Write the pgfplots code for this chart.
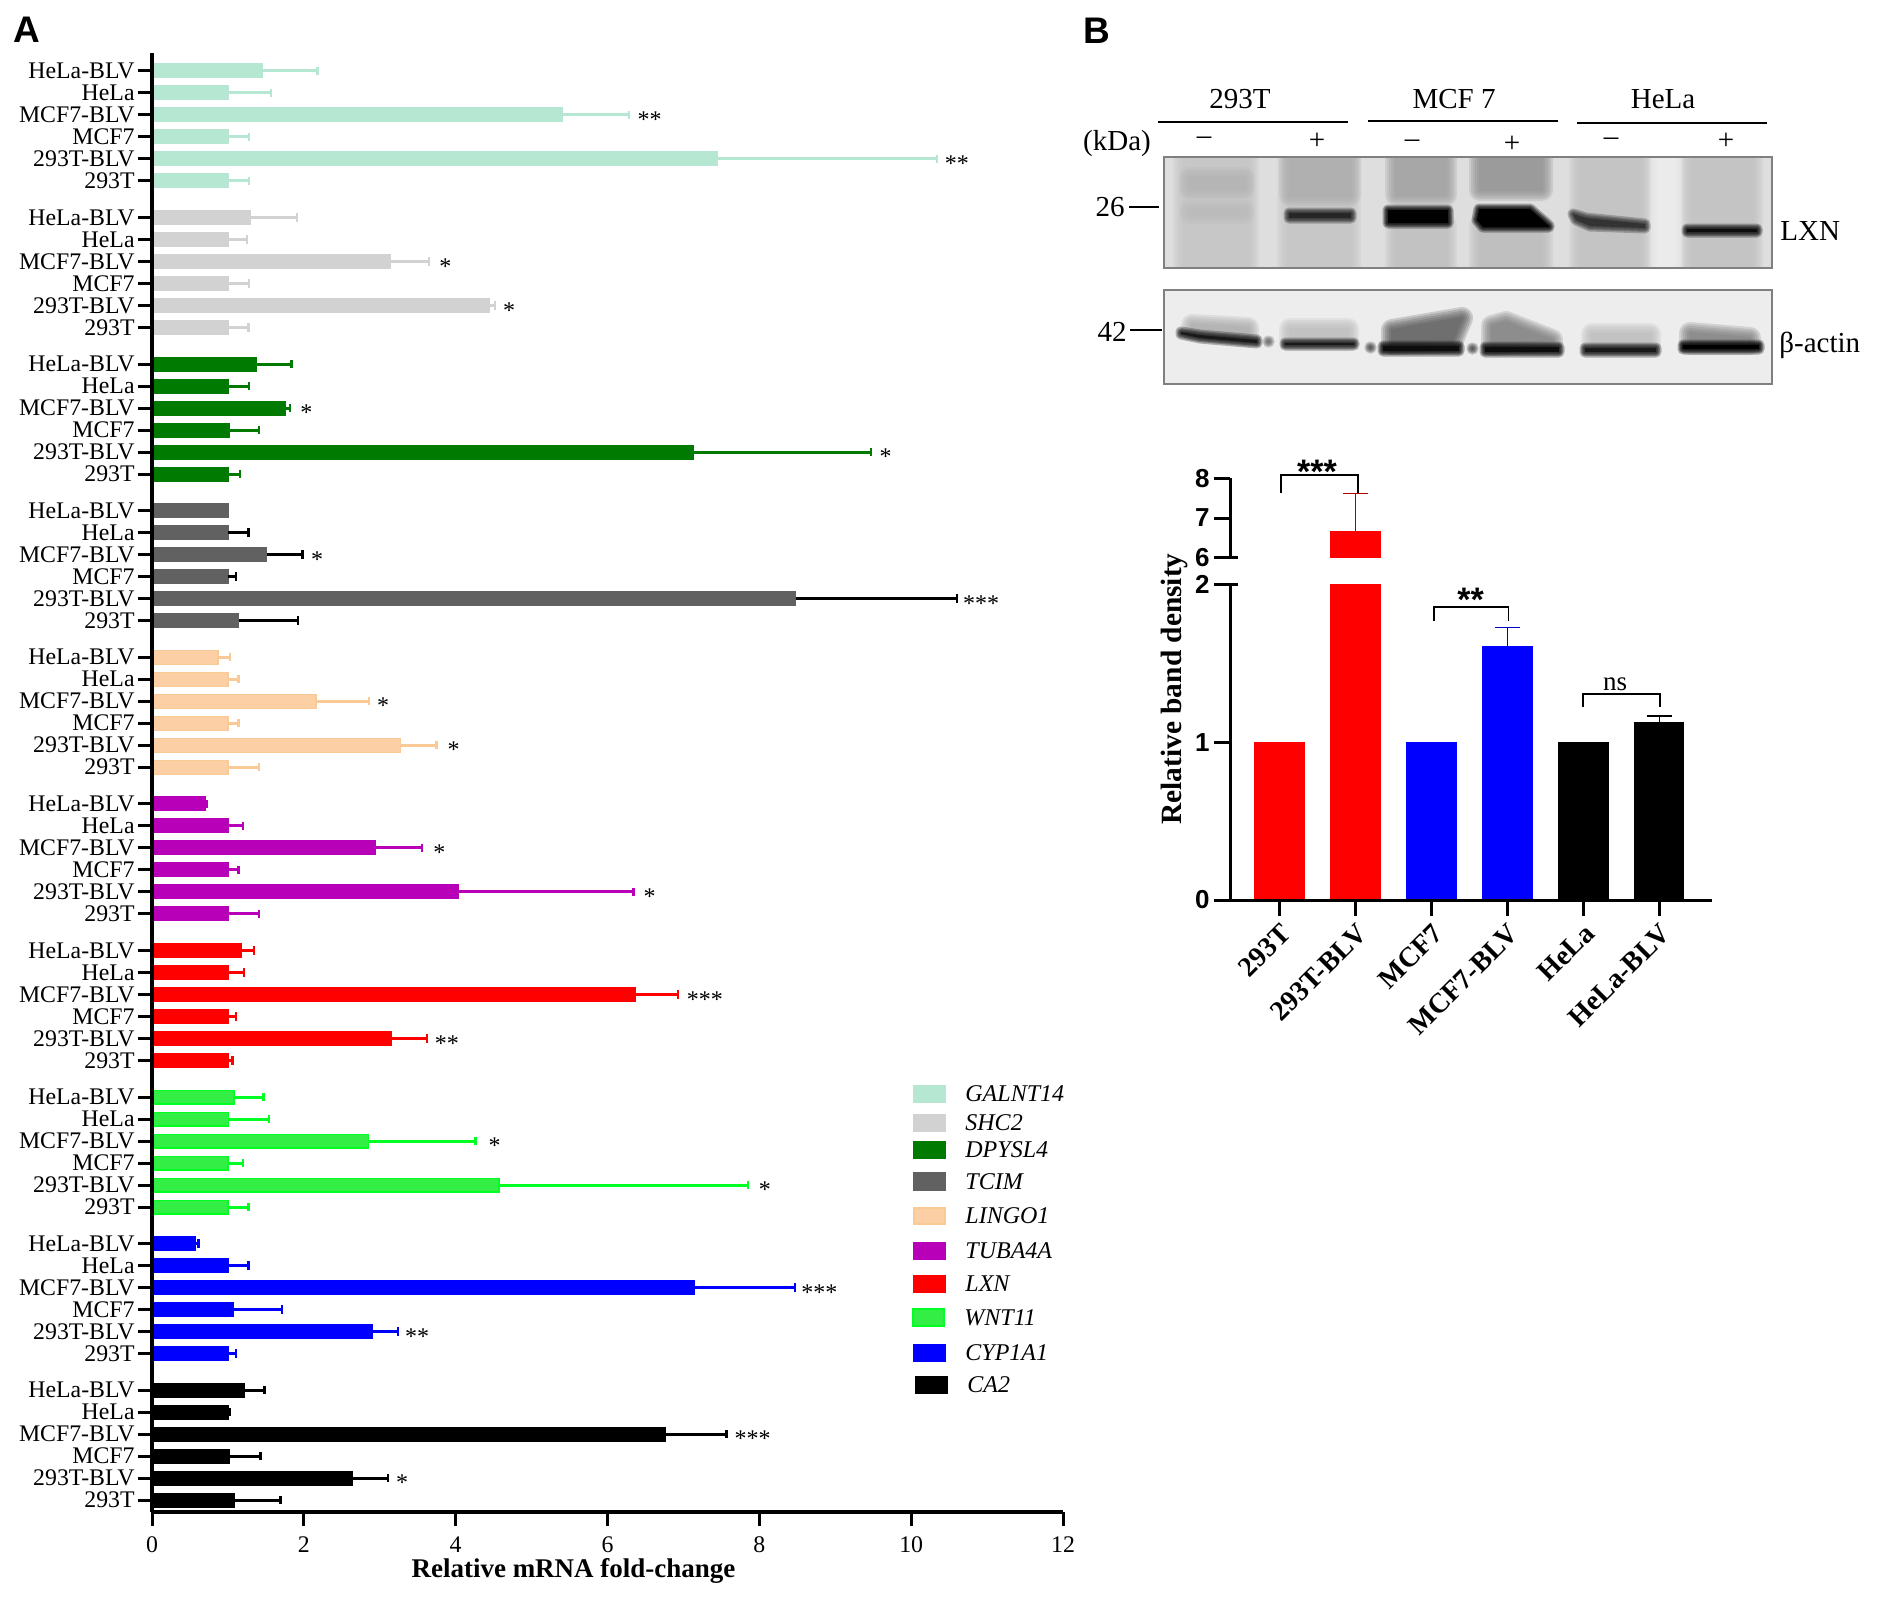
\documentclass[border=0pt]{standalone}
\usepackage{fontspec}
\usepackage{pgfplots}
\usepackage{pgfplotstable}
\pgfplotsset{compat=1.18}
\setmainfont{Liberation Serif}
\newfontfamily\lsans{Liberation Sans}
\newcommand\fs[1]{\fontsize{#1}{#1}\selectfont}

% row positions are pixels above the x axis of panel A
\pgfplotstableread{
y v e
1332.4 1.00 0.28
1354.4 7.45 2.89
1376.4 1.00 0.28
1398.4 5.41 0.87
1420.4 1.00 0.57
1442.4 1.46 0.72
}\tGalnt
\pgfplotstableread{
y v e
1185.8 1.00 0.27
1207.8 4.44 0.08
1229.8 1.00 0.28
1251.8 3.14 0.51
1273.8 1.00 0.25
1295.8 1.30 0.61
}\tShc
\pgfplotstableread{
y v e
1039.2 1.00 0.16
1061.2 7.13 2.34
1083.2 1.02 0.39
1105.2 1.76 0.06
1127.2 1.00 0.28
1149.2 1.37 0.47
}\tDpysl
\pgfplotstableread{
y v e
892.6 1.14 0.78
914.6 8.48 2.12
936.6 1.00 0.11
958.6 1.51 0.47
980.6 1.00 0.27
}\tTcim
\pgfplotstableread{
y v e
746 1.00 0.41
768 3.27 0.48
790 1.00 0.14
812 2.16 0.70
834 1.00 0.14
856 0.87 0.16
}\tLingo
\pgfplotstableread{
y v e
599.4 1.00 0.41
621.4 4.04 2.30
643.4 1.00 0.14
665.4 2.94 0.62
687.4 1.00 0.20
709.4 0.70 0.02
}\tTuba
\pgfplotstableread{
y v e
452.8 1.00 0.06
474.8 3.15 0.47
496.8 1.00 0.11
518.8 6.37 0.56
540.8 1.00 0.21
562.8 1.18 0.16
}\tLxn
\pgfplotstableread{
y v e
306.2 1.00 0.27
328.2 4.57 3.28
350.2 1.00 0.20
372.2 2.85 1.41
394.2 1.01 0.53
416.2 1.08 0.39
}\tWnt
\pgfplotstableread{
y v e
159.6 1.00 0.11
181.6 2.90 0.34
203.6 1.07 0.64
225.6 7.15 1.32
247.6 1.00 0.27
269.6 0.57 0.04
}\tCyp
\pgfplotstableread{
y v e
13 1.08 0.61
35 2.64 0.47
57 1.02 0.41
79 6.76 0.81
101 1.00 0.02
123 1.22 0.26
}\tCa
% panel B
\pgfplotstableread{
x v e
1 6.67 0.95
}\tBandR
\pgfplotstableread{
x v e
3 1.61 0.12
}\tBandB
\pgfplotstableread{
x v e
5 1.13 0.036
}\tBandK

\definecolor{cGalnt}{HTML}{B5E7D3}
\definecolor{cShc}{HTML}{D2D2D2}
\definecolor{cDpysl}{HTML}{007A00}
\definecolor{cTcim}{HTML}{616161}
\definecolor{cLingo}{HTML}{FCD0A4}
\definecolor{dLingo}{HTML}{FBC995}
\definecolor{cTuba}{HTML}{B800B8}
\definecolor{cLxn}{HTML}{FF0000}
\definecolor{cWnt}{HTML}{33EE44}
\definecolor{dWnt}{HTML}{00FF22}
\definecolor{cCyp}{HTML}{0000FF}
\colorlet{eRed}{red!70!black}
\colorlet{eBlue}{blue!80!black}

% one gene: bar colour, edge colour, error bar colour, table
\newcommand\gene[4]{%
  \addplot[xbar, bar shift=0pt, bar width=6.9pt, fill=#1, draw=#2, line width=0.6pt,
    error bars/.cd, x dir=plus, x explicit,
    error bar style={color=#3, line width=1.5pt},
    error mark options={rotate=90, color=#3, mark size=2.1pt, line width=1.2pt}]
    table[x=v, y=y, x error plus=e] {#4};}
\newcommand\sig[3]{\node[anchor=west, inner sep=0pt, yshift=-1.2pt, font=\fs{12}] at (axis cs:#1,#2) {#3};}
% panel B bars: fill, error colour, table
\newcommand\band[3]{%
  \addplot[ybar, bar shift=0pt, bar width=25.3pt, fill=#1, draw=none,
    error bars/.cd, y dir=plus, y explicit,
    error bar style={color=#2, line width=0.6pt},
    error mark options={rotate=90, color=#2, mark size=6.25pt, line width=0.6pt}]
    table[x=x, y=v, y error plus=e] {#3};}

% soft edged shapes for the blots: grey level, path
\newcommand\soft[2]{%
  \foreach \w in {22,18,14,10,6,2}{%
    \begin{scope}[transparency group, opacity=0.22]
    \draw[#1, fill=#1, line width=\w*0.5pt, line join=round] #2;
    \end{scope}}}
\newcommand\softthin[2]{%
  \foreach \w in {11,8,6,4,2}{%
    \begin{scope}[transparency group, opacity=0.3]
    \draw[#1, fill=#1, line width=\w*0.5pt, line join=round] #2;
    \end{scope}}
  \fill[#1] #2;}

\begin{document}
\begin{tikzpicture}[x=0.5pt,y=-0.5pt]
\path[use as bounding box] (0,0) rectangle (1878,1597);

\begin{axis}[
  at={(76pt,-756pt)}, anchor=south west,
  scale only axis, width=455.5pt, height=729.5pt,
  xmin=0, xmax=12, ymin=1.2, ymax=1460.2,
  axis x line=bottom, axis y line=left,
  axis line style={-, line width=1.8pt},
  axis on top,
  tick style={black, line width=1.5pt},
  tick align=outside, major tick length=7pt,
  xtick={0,2,4,6,8,10,12},
  /pgf/number format/assume math mode=true,
  tick label style={font=\fs{11.9}},
  xticklabel style={inner sep=2pt, yshift=-3pt},
  yticklabel style={inner sep=1.5pt},
  ytick={13,35,57,79,101,123,159.6,181.6,203.6,225.6,247.6,269.6,
    306.2,328.2,350.2,372.2,394.2,416.2,452.8,474.8,496.8,518.8,540.8,562.8,
    599.4,621.4,643.4,665.4,687.4,709.4,746,768,790,812,834,856,
    892.6,914.6,936.6,958.6,980.6,1002.6,1039.2,1061.2,1083.2,1105.2,1127.2,1149.2,
    1185.8,1207.8,1229.8,1251.8,1273.8,1295.8,1332.4,1354.4,1376.4,1398.4,1420.4,1442.4},
  yticklabels={293T,293T-BLV,MCF7,MCF7-BLV,HeLa,HeLa-BLV,
    293T,293T-BLV,MCF7,MCF7-BLV,HeLa,HeLa-BLV,
    293T,293T-BLV,MCF7,MCF7-BLV,HeLa,HeLa-BLV,
    293T,293T-BLV,MCF7,MCF7-BLV,HeLa,HeLa-BLV,
    293T,293T-BLV,MCF7,MCF7-BLV,HeLa,HeLa-BLV,
    293T,293T-BLV,MCF7,MCF7-BLV,HeLa,HeLa-BLV,
    293T,293T-BLV,MCF7,MCF7-BLV,HeLa,HeLa-BLV,
    293T,293T-BLV,MCF7,MCF7-BLV,HeLa,HeLa-BLV,
    293T,293T-BLV,MCF7,MCF7-BLV,HeLa,HeLa-BLV,
    293T,293T-BLV,MCF7,MCF7-BLV,HeLa,HeLa-BLV},
  xlabel={Relative mRNA fold-change},
  xlabel style={font=\fs{13.5}\bfseries, inner sep=1pt, xshift=-17pt, yshift=0pt},
]
\gene{cGalnt}{cGalnt}{cGalnt}{\tGalnt}
\gene{cShc}{cShc}{cShc}{\tShc}
\gene{cDpysl}{cDpysl}{cDpysl}{\tDpysl}
\gene{cTcim}{cTcim}{black}{\tTcim}
\addplot[xbar, bar shift=0pt, bar width=6.9pt, fill=cTcim, draw=cTcim, line width=0.6pt] coordinates {(1.00,1002.6)};
\gene{cLingo}{dLingo}{dLingo}{\tLingo}
\gene{cTuba}{cTuba}{cTuba}{\tTuba}
\gene{cLxn}{cLxn}{cLxn}{\tLxn}
\gene{cWnt}{dWnt}{dWnt}{\tWnt}
\gene{cCyp}{cCyp}{cCyp}{\tCyp}
\gene{black}{black}{black}{\tCa}
\sig{6.39}{1396}{**}\sig{10.44}{1352}{**}
\sig{3.78}{1249}{*}\sig{4.62}{1205}{*}
\sig{1.95}{1103}{*}\sig{9.58}{1059}{*}
\sig{2.09}{956}{*}\sig{10.68}{912}{***}
\sig{2.96}{810}{*}\sig{3.89}{766}{*}
\sig{3.70}{663}{*}\sig{6.47}{619}{*}
\sig{7.04}{516}{***}\sig{3.72}{472}{**}
\sig{4.43}{370}{*}\sig{7.99}{326}{*}
\sig{8.55}{223}{***}\sig{3.33}{179}{**}
\sig{7.67}{77}{***}\sig{3.21}{33}{*}
\end{axis}

% panel letters
\node[font=\lsans\bfseries\fs{18.5}, inner sep=0pt] at (27,30) {A};
\node[font=\lsans\bfseries\fs{18.5}, inner sep=0pt] at (1097,31) {B};

% legend of panel A
\foreach \yt/\yb/\xl/\c/\d/\n in {1085/1103/913/cGalnt/cGalnt/GALNT14, 1114/1132/913/cShc/cShc/SHC2,
    1141/1159/913/cDpysl/cDpysl/DPYSL4, 1172/1191/913/cTcim/cTcim/TCIM, 1207/1225/913/cLingo/dLingo/LINGO1,
    1242/1260/913/cTuba/cTuba/TUBA4A, 1275/1293/913/cLxn/cLxn/LXN, 1308/1327/912/cWnt/dWnt/WNT11,
    1344/1362/913/cCyp/cCyp/CYP1A1, 1376/1394/915/black/black/CA2}{
  \filldraw[fill=\c, draw=\d, line width=0.8pt] (\xl+1,\yt+1) rectangle (\xl+32,\yb-1);
  \node[anchor=west, inner sep=0pt, font=\fs{12}\itshape] at (\xl+52,{(\yt+\yb)/2}) {\n};
}

% blot headers
\foreach \x/\y/\t in {1240/99/293T, 1454/99/MCF 7, 1663/99/HeLa, 1117/144/(kDa),
    1204/141/--, 1317/141/+, 1412/144/--, 1512/144/+, 1611/142/--, 1726/141/+,
    1110/207/26, 1112/332/42}{
  \node[inner sep=0pt, font=\fs{14.5}] at (\x,\y) {\t};
}
\draw[line width=0.8pt] (1158,122) -- (1348,122);
\draw[line width=0.8pt] (1368,121) -- (1558,121);
\draw[line width=0.8pt] (1577,123) -- (1767,123);
\draw[line width=0.8pt] (1129,207) -- (1159,207);
\draw[line width=0.8pt] (1130,330) -- (1162,330);
\node[anchor=west, inner sep=0pt, font=\fs{14.5}] at (1780,231) {LXN};
\node[anchor=west, inner sep=0pt, font=\fs{14.5}] at (1779,345) {β-actin};

% blot LXN
\begin{scope}
\clip (1164,157) rectangle (1772,268);
\fill[black!13] (1164,157) rectangle (1772,268);
\soft{black!24}{(1184,140) rectangle (1248,285)}
\soft{black!30}{(1190,178) rectangle (1244,188)}
\soft{black!27}{(1190,211) rectangle (1244,213)}
\soft{black!24}{(1288,140) rectangle (1350,285)}
\soft{black!33}{(1290,140) rectangle (1350,195)}
\soft{black!26}{(1396,225) rectangle (1446,285)}
\soft{black!40}{(1396,140) rectangle (1446,195)}
\soft{black!28}{(1480,225) rectangle (1542,285)}
\soft{black!46}{(1480,140) rectangle (1542,190)}
\soft{black!25}{(1580,140) rectangle (1640,285)}
\soft{black!25}{(1692,140) rectangle (1752,285)}
\soft{black!5}{(1660,140) rectangle (1672,285)}
\softthin{black!85}{(1289,213) rectangle (1351,218)}
\softthin{black}{(1388,210) -- (1448,210) -- (1448,223) -- (1388,223) -- cycle}
\softthin{black}{(1479,209) -- (1530,209) -- (1549,226) -- (1549,227) -- (1483,227) -- (1477,220) -- cycle}
\softthin{black!80}{(1573,214) -- (1586,218) -- (1645,224) -- (1645,228) -- (1590,226) -- (1576,220) -- cycle}
\softthin{black!95}{(1687,229) rectangle (1757,232)}
\end{scope}
\draw[black!50, line width=0.7pt] (1164,157) rectangle (1772,268);

% blot actin
\begin{scope}
\clip (1164,290) rectangle (1772,384);
\fill[black!7] (1164,290) rectangle (1772,384);
\soft{black!35}{(1192,325) -- (1248,328) -- (1248,336) -- (1192,330) -- cycle}
\soft{black!28}{(1290,329) -- (1348,329) -- (1348,340) -- (1290,340) -- cycle}
\soft{black!70}{(1392,330) -- (1462,318) -- (1452,342) -- (1392,344) -- cycle}
\soft{black!55}{(1492,326) -- (1506,322) -- (1552,340) -- (1492,345) -- cycle}
\soft{black!28}{(1592,334) -- (1650,334) -- (1650,345) -- (1592,345) -- cycle}
\soft{black!55}{(1690,333) -- (1750,338) -- (1750,344) -- (1690,344) -- cycle}
\softthin{black!90}{(1181,332) -- (1200,335) -- (1257,340) -- (1257,343) -- (1200,338) -- (1181,334) -- cycle}
\softthin{black!90}{(1285,343) rectangle (1354,345)}
\softthin{black!95}{(1383,346) rectangle (1459,351)}
\softthin{black!95}{(1485,347) rectangle (1559,352)}
\softthin{black!90}{(1585,348) rectangle (1656,352)}
\softthin{black}{(1683,345) rectangle (1759,349)}
\softthin{black!60}{(1268,341) rectangle (1269,342)}
\softthin{black!70}{(1370,347) rectangle (1371,348)}
\softthin{black!70}{(1472,348) rectangle (1473,349)}
\end{scope}
\draw[black!50, line width=0.7pt] (1164,290) rectangle (1772,384);

% panel B, part below the break
\begin{axis}[
  at={(615pt,-450pt)}, anchor=south west,
  scale only axis, width=241pt, height=157.75pt,
  xmin=-0.653, xmax=5.697, ymin=0, ymax=2,
  axis x line=bottom, axis y line=left,
  axis line style={-, line width=1.5pt},
  axis on top,
  tick style={black, line width=1.5pt},
  tick align=outside, major tick length=8pt,
  xtick={0,1,2,3,4,5},
  xticklabels={293T,293T-BLV,MCF7,MCF7-BLV,HeLa,HeLa-BLV},
  xticklabel style={rotate=45, anchor=north east, font=\fs{14}\bfseries, inner sep=1pt, xshift=-1.2pt, yshift=-1.05pt},
  ytick={0,1,2},
  /pgf/number format/assume math mode=true,
  yticklabel style={font=\lsans\bfseries\fs{13}, inner sep=2pt},
]
\addplot[ybar, bar shift=0pt, bar width=25.3pt, fill=cLxn, draw=none] coordinates {(0,1)};
\band{cLxn}{eRed}{\tBandR}
\addplot[ybar, bar shift=0pt, bar width=25.3pt, fill=cCyp, draw=none] coordinates {(2,1)};
\band{cCyp}{eBlue}{\tBandB}
\addplot[ybar, bar shift=0pt, bar width=25.3pt, fill=black, draw=none] coordinates {(4,1)};
\band{black}{black}{\tBandK}
\end{axis}

% panel B, part above the break
\begin{axis}[
  at={(615pt,-278.8pt)}, anchor=south west,
  scale only axis, width=241pt, height=39.6pt,
  xmin=-0.653, xmax=5.697, ymin=6, ymax=8,
  axis x line=none, axis y line=left,
  axis line style={-, line width=1.5pt},
  tick style={black, line width=1.5pt},
  tick align=outside, major tick length=8pt,
  ytick={6,7,8},
  /pgf/number format/assume math mode=true,
  yticklabel style={font=\lsans\bfseries\fs{13}, inner sep=2pt},
]
\band{cLxn}{eRed}{\tBandR}
\end{axis}

% break ticks
\draw[line width=1.5pt] (1230,557.6) -- (1238,557.6);
\draw[line width=1.5pt] (1230,584.5) -- (1238,584.5);

% brackets
\draw[line width=0.7pt] (1281,493) -- (1281,475) -- (1358,475) -- (1358,493);
\draw[line width=0.7pt] (1434,621) -- (1434,607) -- (1508.5,607) -- (1508.5,621);
\draw[line width=0.7pt] (1583,707) -- (1583,694) -- (1660,694) -- (1660,707);
\node[inner sep=0pt, font=\lsans\bfseries\fs{17}] at (1317,471.5) {***};
\node[inner sep=0pt, font=\lsans\bfseries\fs{17}] at (1470.5,599.5) {**};
\node[inner sep=0pt, font=\fs{13.5}] at (1615,684) {ns};
\node[inner sep=0pt, rotate=90, font=\fs{14.7}\bfseries] at (1174,689) {Relative band density};
\end{tikzpicture}
\end{document}
